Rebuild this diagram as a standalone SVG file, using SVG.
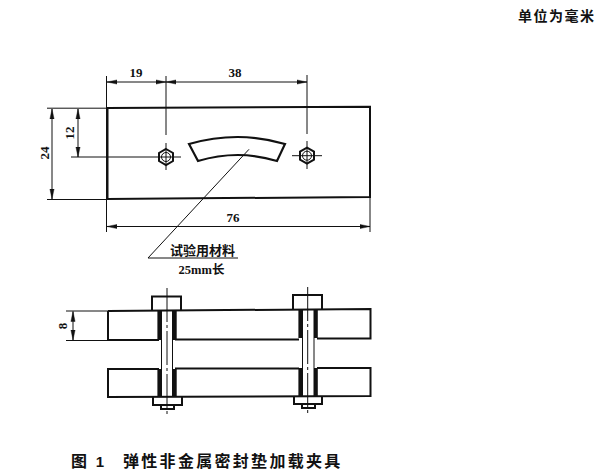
<svg xmlns="http://www.w3.org/2000/svg" width="606" height="475" viewBox="0 0 606 475">
<style>
.n{font-family:"Liberation Serif",serif;font-size:13px;font-weight:bold;fill:#111;text-anchor:middle}
.c{font-family:"Noto Sans CJK SC",sans-serif;font-weight:bold;fill:#111}
.thin{fill:none;stroke:#111;stroke-width:1}
.obj{fill:none;stroke:#111;stroke-width:2}
.thick{fill:none;stroke:#111;stroke-width:3.8}
</style>
<defs>
<marker id="a" markerUnits="userSpaceOnUse" markerWidth="11" markerHeight="6" refX="10" refY="3" orient="auto-start-reverse"><path d="M0 .9L10 3L0 5.100Z" fill="#111" stroke="#111" stroke-width=".4"/></marker>
</defs>
<rect width="606" height="475" fill="#fff"/>
<g id="unit-note"><text class="c" x="518" y="21" font-size="14" letter-spacing="1.500">单位为毫米</text></g>
<g id="plate-top">
<path class="obj" d="M107.500 108L370 106.800V197L107.500 199Z"/>
</g>
<g id="gasket"><path d="M189 144Q238 130 285 144L277 161Q238 149 198 161Z" fill="none" stroke="#111" stroke-width="2.200"/></g>
<g id="bolt-left-top">
<path class="obj" stroke-width="1.600" d="M166 149L173 153V161L166 165L159 161V153Z"/>
<circle class="thin" cx="166" cy="157" r="4.500"/>
<path class="thin" d="M166 143V170M155 157H181"/>
</g>
<g id="bolt-right-top">
<path class="obj" stroke-width="1.600" d="M307 147.700L314 151.700V159.700L307 163.700L300 159.700V151.700Z"/>
<circle class="thin" cx="307" cy="155.700" r="4.500"/>
<path class="thin" d="M307 141V169M292 155.700H322"/>
</g>
<g id="connectors">
<path class="thin" d="M106.500 76V232M166 76V135M307 75V134M370 197V232"/>
<path class="thin" d="M47 108.200H107M47 199.500H107"/>
<path class="thin" stroke-width="1.300" d="M71 157H155"/>
<path class="thin" marker-start="url(#a)" marker-end="url(#a)" d="M107 82H166"/>
<path class="thin" marker-start="url(#a)" marker-end="url(#a)" d="M166 82H307"/>
<path class="thin" marker-start="url(#a)" marker-end="url(#a)" d="M107 226.500H370"/>
<path class="thin" marker-start="url(#a)" marker-end="url(#a)" d="M52 109V199"/>
<path class="thin" marker-start="url(#a)" marker-end="url(#a)" d="M78 109V157"/>
<path class="thin" d="M249 149.300L148 258H238"/>
<path class="thin" d="M66 311H108M66 340.500H108"/>
<path class="thin" marker-start="url(#a)" marker-end="url(#a)" d="M73 311.500V340"/>
</g>
<g id="dim-labels">
<text class="n" x="136" y="77">19</text>
<text class="n" x="235" y="77">38</text>
<text class="n" x="233" y="222">76</text>
<text class="n" transform="translate(48.500 153) rotate(-90)">24</text>
<text class="n" transform="translate(73.500 133) rotate(-90)">12</text>
<text class="n" transform="translate(67 326) rotate(-90)">8</text>
</g>
<g id="material-label">
<text class="c" x="202.500" y="255" font-size="13" text-anchor="middle">试验用材料</text>
<text x="201.500" y="274" font-size="12.500" text-anchor="middle" font-weight="bold" fill="#111" font-family="'Liberation Serif','Noto Sans CJK SC',serif">25mm长</text>
</g>
<g id="plate-upper-side">
<path class="obj" d="M108 311L370.500 309V338.500H317M299 339.500H175M159 340H108V311"/>
</g>
<g id="plate-lower-side">
<path class="obj" d="M159 369H108V397L370.500 396V368H317M299 368.500H175"/>
</g>
<g id="bolt-left-side">
<path class="obj" d="M152 311V296.500H181V311"/>
<path class="thick" d="M159.300 311V340M159.300 369V397M174.800 311V340M174.800 369V397"/>
<path class="thin" stroke-width="1.300" d="M161.500 311V397M172.500 311V397"/>
<path class="obj" d="M153 397V405H182V397M161 405V409H174V405"/>
<path class="thin" stroke-dasharray="34 3 3 3" d="M167 288V415"/>
</g>
<g id="bolt-right-side">
<path class="obj" d="M293 310V295H322V310"/>
<path class="thick" d="M300.300 310V338M300.300 368V396M315.900 310V338M315.900 368V396"/>
<path class="thin" stroke-width="1.300" d="M302.500 310V396M314 310V396"/>
<path class="obj" d="M294 396V404H322V396M302 404V408H315V404"/>
<path class="thin" stroke-dasharray="34 3 3 3" d="M307.700 287V414"/>
</g>
<g id="caption">
<text class="c" x="71" y="467" font-size="16">图</text>
<text x="100" y="467" font-size="15" font-weight="bold" fill="#111" text-anchor="middle" font-family="'Liberation Sans',sans-serif">1</text>
<text class="c" x="123" y="467" font-size="16" letter-spacing="2.300">弹性非金属密封垫加载夹具</text>
</g>
</svg>
